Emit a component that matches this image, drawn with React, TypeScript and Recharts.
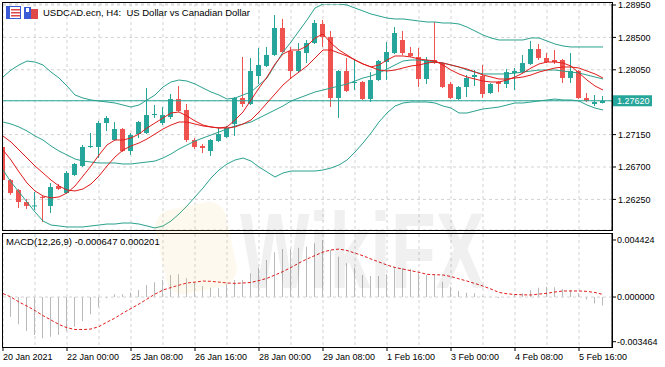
import React from 'react';
import { Bar, CartesianGrid, ComposedChart, Line, ReferenceLine, XAxis, YAxis } from 'recharts';

const FONT = '"Liberation Sans", Arial, sans-serif';
const BULL = '#26a69a';
const BEAR = '#ef5350';
const BAND = '#2aa18d';
const MA_RED = '#e01b1b';
const GRID = '#d2d2d2';
const HIST = '#b9b9b9';

// H4 candles, oldest first
const OPEN = [
  1.26978, 1.26519, 1.26381, 1.26214, 1.26152, 1.26284, 1.26159, 1.26436, 1.26339, 1.26589,
  1.26714, 1.26978, 1.26978, 1.27311, 1.27075, 1.27228, 1.26922, 1.27158, 1.27172, 1.27422,
  1.27311, 1.27394, 1.27644, 1.27492, 1.27075, 1.26992, 1.26922, 1.27061, 1.27117, 1.27297,
  1.27658, 1.27575, 1.27964, 1.28103, 1.28256, 1.28631, 1.28311, 1.28033, 1.28283, 1.28422,
  1.28686, 1.28506, 1.27658, 1.28033, 1.27867, 1.27881, 1.27644, 1.27908, 1.28158, 1.28283,
  1.28464, 1.28283, 1.28228, 1.27922, 1.28186, 1.28144, 1.27853, 1.27644, 1.27811, 1.2795,
  1.27964, 1.27728, 1.27881, 1.27853, 1.28005, 1.28019, 1.28131, 1.28339, 1.28214, 1.28186,
  1.28186, 1.27936, 1.28033, 1.27658, 1.27575, 1.27589,
];
const HIGH = [
  1.27006, 1.26533, 1.26395, 1.26256, 1.26353, 1.26298, 1.26478, 1.26464, 1.26644, 1.26756,
  1.27006, 1.27172, 1.27339, 1.27408, 1.27325, 1.27242, 1.27172, 1.27339, 1.27797, 1.27561,
  1.27533, 1.27714, 1.27825, 1.27575, 1.27103, 1.2702, 1.27089, 1.27256, 1.2727, 1.27672,
  1.28228, 1.28214, 1.28353, 1.28367, 1.28811, 1.28756, 1.28367, 1.28422, 1.28464, 1.28742,
  1.28742, 1.28589, 1.28047, 1.28214, 1.282, 1.27894, 1.28019, 1.28186, 1.28436, 1.28644,
  1.28589, 1.28367, 1.28353, 1.28228, 1.28714, 1.28158, 1.27881, 1.27825, 1.27978, 1.28047,
  1.28117, 1.27867, 1.27894, 1.28061, 1.28075, 1.28256, 1.2845, 1.28408, 1.28283, 1.28325,
  1.282, 1.28283, 1.28047, 1.27728, 1.277, 1.27686,
];
const LOW = [
  1.26491, 1.26312, 1.26131, 1.26117, 1.26103, 1.25936, 1.26061, 1.26381, 1.26325, 1.26575,
  1.267, 1.26964, 1.26825, 1.272, 1.27061, 1.26908, 1.26867, 1.27103, 1.27158, 1.27381,
  1.27283, 1.27367, 1.27464, 1.27047, 1.2695, 1.26894, 1.26853, 1.27047, 1.27103, 1.27131,
  1.27533, 1.27561, 1.27853, 1.28089, 1.28242, 1.28283, 1.27922, 1.28019, 1.28144, 1.28408,
  1.28367, 1.27533, 1.27381, 1.27742, 1.27769, 1.27631, 1.27603, 1.27894, 1.27908, 1.28269,
  1.28256, 1.28228, 1.27811, 1.27853, 1.28131, 1.27797, 1.27644, 1.27631, 1.27672, 1.27825,
  1.27658, 1.27714, 1.27742, 1.27797, 1.27769, 1.28005, 1.28117, 1.28186, 1.28144, 1.28131,
  1.27867, 1.27867, 1.27644, 1.27603, 1.27547, 1.27582,
];
const CLOSE = [
  1.26519, 1.26339, 1.26214, 1.26159, 1.26166, 1.26277, 1.26422, 1.26395, 1.26617, 1.26742,
  1.26978, 1.26992, 1.27311, 1.27381, 1.27228, 1.26922, 1.27144, 1.27325, 1.27422, 1.27436,
  1.27422, 1.27644, 1.27478, 1.27075, 1.26978, 1.26964, 1.27075, 1.27158, 1.27242, 1.27658,
  1.27575, 1.28033, 1.28117, 1.28256, 1.28631, 1.28297, 1.28033, 1.28311, 1.28422, 1.287,
  1.28506, 1.27658, 1.28033, 1.27756, 1.27881, 1.27644, 1.27908, 1.28172, 1.28297, 1.28561,
  1.28283, 1.28242, 1.27922, 1.28186, 1.28144, 1.27811, 1.27658, 1.27811, 1.27936, 1.27978,
  1.27714, 1.27853, 1.27853, 1.28019, 1.28033, 1.28144, 1.28339, 1.28214, 1.28158, 1.28158,
  1.27936, 1.28033, 1.27658, 1.27617, 1.27603, 1.2762,
];

// Bollinger bands
const BB_UPPER = [
  1.2795, 1.28047, 1.28117, 1.28172, 1.28158, 1.28117, 1.28019, 1.27936, 1.27825, 1.277,
  1.27658, 1.27631, 1.27617, 1.27603, 1.27589, 1.27561, 1.27533, 1.27561, 1.27631, 1.277,
  1.27811, 1.27881, 1.27908, 1.27894, 1.27853, 1.27797, 1.27742, 1.277, 1.27644, 1.27658,
  1.277, 1.27742, 1.27839, 1.27936, 1.28117, 1.28297, 1.28436, 1.28589, 1.28742, 1.28908,
  1.28964, 1.28964, 1.28964, 1.2895, 1.28908, 1.28867, 1.28825, 1.28797, 1.28769, 1.28756,
  1.28756, 1.28742, 1.28728, 1.28714, 1.28714, 1.287, 1.287, 1.28686, 1.28644, 1.28589,
  1.28533, 1.28492, 1.28464, 1.28464, 1.28464, 1.28464, 1.28492, 1.28492, 1.2845, 1.28408,
  1.28381, 1.28367, 1.28367, 1.28367, 1.28367, 1.28367,
];
const BB_MID = [
  1.27325, 1.27297, 1.27256, 1.272, 1.27131, 1.27075, 1.26992, 1.26922, 1.26867, 1.26811,
  1.26783, 1.26769, 1.26756, 1.26756, 1.26756, 1.26742, 1.26742, 1.26756, 1.26769, 1.26783,
  1.26825, 1.26881, 1.2695, 1.27006, 1.27061, 1.27103, 1.27144, 1.27186, 1.27228, 1.2727,
  1.27297, 1.27325, 1.27381, 1.27436, 1.27492, 1.27547, 1.27617, 1.27658, 1.277, 1.27742,
  1.27769, 1.27797, 1.27825, 1.27853, 1.27894, 1.27936, 1.27964, 1.28005, 1.28061, 1.28117,
  1.28172, 1.28186, 1.28186, 1.28172, 1.28158, 1.28144, 1.28117, 1.28089, 1.28047, 1.28019,
  1.27992, 1.27992, 1.27992, 1.27992, 1.28005, 1.28019, 1.28033, 1.28047, 1.28047, 1.28047,
  1.28033, 1.28019, 1.28005, 1.27978, 1.2795, 1.27922,
];
const BB_LOWER = [
  1.26658, 1.26491, 1.26353, 1.26214, 1.26075, 1.2595, 1.25894, 1.25881, 1.25867, 1.25867,
  1.25867, 1.25881, 1.25894, 1.25908, 1.25908, 1.25922, 1.25922, 1.25908, 1.25881, 1.25853,
  1.25881, 1.2595, 1.26047, 1.26159, 1.26284, 1.26408, 1.26547, 1.26658, 1.26742, 1.26797,
  1.26825, 1.26783, 1.267, 1.26631, 1.26561, 1.26617, 1.26644, 1.26644, 1.26644, 1.26644,
  1.26658, 1.26686, 1.26728, 1.26797, 1.26908, 1.27033, 1.27172, 1.27325, 1.2745, 1.27547,
  1.27589, 1.27603, 1.27603, 1.27603, 1.27589, 1.27547, 1.27519, 1.2745, 1.2745, 1.27478,
  1.27506, 1.27519, 1.27533, 1.27561, 1.27589, 1.27589, 1.27603, 1.27617, 1.27631, 1.27644,
  1.27631, 1.27631, 1.27617, 1.27561, 1.27519, 1.27492,
];

// two red moving averages
const MA_FAST = [
  1.26936, 1.26797, 1.26631, 1.26478, 1.26367, 1.26298, 1.2627, 1.26284, 1.26339, 1.26436,
  1.26575, 1.26714, 1.26867, 1.27006, 1.27075, 1.27075, 1.27103, 1.27158, 1.27242, 1.27311,
  1.27381, 1.2745, 1.27464, 1.27408, 1.27339, 1.27283, 1.27256, 1.27242, 1.27256, 1.27353,
  1.27464, 1.27631, 1.27797, 1.2795, 1.28131, 1.2827, 1.28325, 1.28325, 1.28381, 1.28492,
  1.28547, 1.28422, 1.28325, 1.28256, 1.28186, 1.28131, 1.28089, 1.28117, 1.28186, 1.28242,
  1.28242, 1.28228, 1.282, 1.28186, 1.28172, 1.28117, 1.28047, 1.27992, 1.2795, 1.27922,
  1.27894, 1.27881, 1.27881, 1.27908, 1.2795, 1.28005, 1.28075, 1.28131, 1.28158, 1.28158,
  1.28144, 1.28103, 1.28005, 1.27908, 1.27825, 1.27769,
];
const MA_SLOW = [
  1.27131, 1.27047, 1.26936, 1.26825, 1.26714, 1.26617, 1.26519, 1.26436, 1.26381, 1.26367,
  1.26395, 1.26464, 1.26575, 1.26714, 1.26839, 1.26936, 1.26992, 1.27033, 1.27089, 1.27158,
  1.27228, 1.27283, 1.27325, 1.27325, 1.27297, 1.2727, 1.27256, 1.27242, 1.27242, 1.27256,
  1.27297, 1.27353, 1.27464, 1.27589, 1.27714, 1.27839, 1.27936, 1.28019, 1.28103, 1.28214,
  1.28325, 1.28325, 1.28283, 1.28242, 1.28186, 1.28131, 1.28089, 1.28047, 1.28033, 1.28047,
  1.28075, 1.28103, 1.28117, 1.28144, 1.28158, 1.28144, 1.28117, 1.28089, 1.28061, 1.28019,
  1.27978, 1.2795, 1.27922, 1.27922, 1.27936, 1.2795, 1.27978, 1.28019, 1.28047, 1.28075,
  1.28089, 1.28089, 1.28075, 1.28033, 1.27992, 1.27936,
];

// MACD(12,26,9): main histogram + signal
const MACD_MAIN = [
  -0.00062, -0.00153, -0.00212, -0.00264, -0.00295, -0.0032, -0.00308, -0.00295, -0.00264, -0.0023,
  -0.00186, -0.00134, -0.00075, -0.0001, 0.00021, 0.00021, 0.00036, 0.00054, 0.00093, 0.00114,
  0.00132, 0.00171, 0.00176, 0.00145, 0.00114, 0.00085, 0.00072, 0.00068, 0.00099, 0.00132,
  0.00132, 0.00184, 0.00227, 0.00287, 0.00347, 0.00372, 0.00372, 0.00383, 0.0039, 0.00417,
  0.00442, 0.00365, 0.00313, 0.00262, 0.00227, 0.00171, 0.00163, 0.00163, 0.00176, 0.00223,
  0.00223, 0.00217, 0.00184, 0.00171, 0.00171, 0.00119, 0.0008, 0.00047, 0.00033, 0.00029,
  0.0001, 0.00005, -0.00008, -0.00002, 0.00016, 0.00029, 0.00054, 0.00072, 0.0008, 0.00075,
  0.00062, 0.00054, 0.00029, -0.0002, -0.0005, -0.000647,
];
const MACD_SIGNAL = [
  0.00027, 0.0, -0.00039, -0.0007, -0.00105, -0.00144, -0.00178, -0.00213, -0.00238, -0.00252,
  -0.00252, -0.00248, -0.00229, -0.00194, -0.00163, -0.00124, -0.00089, -0.00054, -0.00016, 0.00023,
  0.00054, 0.00074, 0.00092, 0.00109, 0.00116, 0.00124, 0.00122, 0.00116, 0.00109, 0.00106,
  0.00109, 0.00113, 0.00128, 0.00145, 0.00171, 0.00198, 0.00229, 0.00264, 0.00295, 0.00322,
  0.00349, 0.00365, 0.00372, 0.00361, 0.00341, 0.0032, 0.00295, 0.00272, 0.00248, 0.00229,
  0.00217, 0.00204, 0.00192, 0.00176, 0.00173, 0.00171, 0.00159, 0.00141, 0.00124, 0.00105,
  0.00085, 0.00062, 0.00036, 0.00025, 0.0002, 0.00017, 0.00016, 0.00023, 0.00029, 0.00039,
  0.00047, 0.00047, 0.00047, 0.00044, 0.00035, 0.000201,
];

// one date label every 8 bars
const DATE_LABELS = [
  '20 Jan 2021', '22 Jan 00:00', '25 Jan 08:00', '26 Jan 16:00', '28 Jan 00:00',
  '29 Jan 08:00', '1 Feb 16:00', '3 Feb 00:00', '4 Feb 08:00', '5 Feb 16:00',
];
const PRICE_TICKS = [1.2895, 1.285, 1.2805, 1.2762, 1.2715, 1.267, 1.2625];
const LAST_PRICE = 1.2762;
const MACD_TICKS = [0.004424, 0, -0.003464];
const GRID_BARS = Array.from({ length: 19 }, (_, k) => k * 4);

const rows = OPEN.map((open, i) => ({
  i,
  open,
  high: HIGH[i],
  low: LOW[i],
  close: CLOSE[i],
  range: [LOW[i], HIGH[i]],
  upper: BB_UPPER[i],
  mid: BB_MID[i],
  lower: BB_LOWER[i],
  fast: MA_FAST[i],
  slow: MA_SLOW[i],
  macd: MACD_MAIN[i],
  signal: MACD_SIGNAL[i],
}));

function Candle(props: any) {
  const { x, y, width, height, payload } = props;
  if (!payload || height == null) return null;
  const { open, close, high, low } = payload;
  const color = close >= open ? BULL : BEAR;
  const top = Math.min(y, y + height);
  const h = Math.abs(height);
  const span = high - low || 1;
  const cx = x + width / 2;
  const bTop = top + ((high - Math.max(open, close)) / span) * h;
  const bBot = top + ((high - Math.min(open, close)) / span) * h;
  return (
    <g>
      <line x1={cx} x2={cx} y1={top} y2={top + h} stroke={color} strokeWidth={1} />
      <rect x={cx - 2.5} y={bTop} width={5} height={Math.max(1, bBot - bTop)} fill={color} />
    </g>
  );
}

function PriceTick(props: any) {
  const { x, y, payload } = props;
  const v = payload.value;
  if (v === LAST_PRICE) {
    return (
      <g>
        <rect x={x + 1} y={y - 5.5} width={39} height={11} fill={BULL} />
        <text x={x + 5} y={y} dy="0.35em" fontSize={9} fontFamily={FONT} fill="#fff">
          {v.toFixed(5)}
        </text>
      </g>
    );
  }
  return (
    <g>
      <line x1={x} x2={x + 4} y1={y} y2={y} stroke="#000" />
      <text x={x + 6} y={y} dy="0.35em" fontSize={9} fontFamily={FONT} fill="#000">
        {v.toFixed(5)}
      </text>
    </g>
  );
}

function MacdTick(props: any) {
  const { x, y, payload } = props;
  return (
    <g>
      <line x1={x} x2={x + 4} y1={y} y2={y} stroke="#000" />
      <text x={x + 5} y={y} dy="0.35em" fontSize={9} fontFamily={FONT} fill="#000">
        {payload.value.toFixed(6)}
      </text>
    </g>
  );
}

function DateTick(props: any) {
  const { x, y, payload } = props;
  const i = payload.value;
  if (i % 8 !== 0) return <g />;
  return (
    <g>
      <line x1={x} x2={x} y1={y} y2={y + 4} stroke="#000" />
      <text x={x} y={y + 13} fontSize={9} fontFamily={FONT} fill="#000">
        {DATE_LABELS[i / 8]}
      </text>
    </g>
  );
}

export default function App() {
  return (
    <div
      style={{
        position: 'absolute',
        left: 0,
        top: 0,
        width: 665,
        height: 367,
        background: '#fff',
        overflow: 'hidden',
        fontFamily: FONT,
      }}
    >
      <div style={{ position: 'absolute', left: 0, top: 0 }}>
        <ComposedChart width={665} height={232} data={rows} margin={{ top: 4, right: 0, bottom: 2, left: 3 }}>
          <CartesianGrid stroke={GRID} strokeDasharray="3 3" />
          <XAxis dataKey="i" type="number" domain={[0, 76.125]} allowDataOverflow ticks={GRID_BARS} interval={0} hide />
          <YAxis
            orientation="right"
            width={53}
            type="number"
            domain={[1.25825, 1.28964]}
            allowDataOverflow
            ticks={PRICE_TICKS}
            interval={0}
            tickLine={false}
            tickSize={0}
            tickMargin={0}
            axisLine={{ stroke: '#000' }}
            tick={(p: any) => <PriceTick {...p} />}
          />
          <ReferenceLine y={LAST_PRICE} stroke={BULL} strokeWidth={1} />
          <Bar dataKey="range" barSize={5} isAnimationActive={false} shape={(p: any) => <Candle {...p} />} />
          <Line type="linear" dataKey="upper" stroke={BAND} strokeWidth={1} dot={false} isAnimationActive={false} />
          <Line type="linear" dataKey="mid" stroke={BAND} strokeWidth={1} dot={false} isAnimationActive={false} />
          <Line type="linear" dataKey="lower" stroke={BAND} strokeWidth={1} dot={false} isAnimationActive={false} />
          <Line type="linear" dataKey="slow" stroke={MA_RED} strokeWidth={1} dot={false} isAnimationActive={false} />
          <Line type="linear" dataKey="fast" stroke={MA_RED} strokeWidth={1} dot={false} isAnimationActive={false} />
        </ComposedChart>
      </div>

      <div style={{ position: 'absolute', left: 0, top: 233 }}>
        <ComposedChart width={665} height={134} data={rows} margin={{ top: 1, right: 0, bottom: 0, left: 3 }}>
          <CartesianGrid stroke={GRID} strokeDasharray="3 3" horizontal={false} />
          <XAxis
            dataKey="i"
            type="number"
            domain={[0, 76.125]}
            allowDataOverflow
            ticks={GRID_BARS}
            interval={0}
            height={20}
            axisLine={false}
            tickLine={false}
            tickSize={0}
            tickMargin={0}
            tick={(p: any) => <DateTick {...p} />}
          />
          <YAxis
            orientation="right"
            width={53}
            type="number"
            domain={[-0.003875, 0.004889]}
            allowDataOverflow
            ticks={MACD_TICKS}
            interval={0}
            tickLine={false}
            tickSize={0}
            tickMargin={0}
            axisLine={{ stroke: '#000' }}
            tick={(p: any) => <MacdTick {...p} />}
          />
          <ReferenceLine y={0} stroke={GRID} strokeDasharray="3 3" />
          <Bar dataKey="macd" barSize={1} fill={HIST} isAnimationActive={false} />
          <Line type="linear" dataKey="signal" stroke={MA_RED} strokeWidth={1} strokeDasharray="3 2" dot={false} isAnimationActive={false} />
        </ComposedChart>
      </div>

      {/* window frames */}
      <div style={{ position: 'absolute', left: 2, top: 2, width: 611, height: 229, border: '1px solid #000', boxSizing: 'border-box', pointerEvents: 'none' }} />
      <div style={{ position: 'absolute', left: 2, top: 233, width: 611, height: 115, border: '1px solid #000', boxSizing: 'border-box', pointerEvents: 'none' }} />

      {/* title and toolbar icons */}
      <svg style={{ position: 'absolute', left: 6, top: 6 }} width={34} height={14}>
        <rect x={0.5} y={0.5} width={14} height={12} fill="#fff" stroke="#3b5bd6" />
        <rect x={1} y={1} width={3} height={11} fill="#3b5bd6" />
        <rect x={5} y={3} width={9} height={1.5} fill="#e04848" />
        <rect x={5} y={6} width={9} height={1.5} fill="#e04848" />
        <rect x={5} y={9} width={9} height={1.5} fill="#e04848" />
        <rect x={18} y={1} width={7} height={12} fill="#3b5bd6" />
        <rect x={25} y={3} width={7} height={10} fill="#e04848" />
        <rect x={20} y={2} width={3} height={4} fill="#fff" />
      </svg>
      <div style={{ position: 'absolute', left: 43, top: 7, fontSize: 9.5, color: '#000', whiteSpace: 'pre', lineHeight: '12px' }}>
        {'USDCAD.ecn, H4:  US Dollar vs Canadian Dollar'}
      </div>
      <div style={{ position: 'absolute', left: 6, top: 236, fontSize: 9.5, color: '#000', whiteSpace: 'pre', lineHeight: '12px' }}>
        {'MACD(12,26,9) -0.000647 0.000201'}
      </div>

      {/* faint watermark */}
      <svg style={{ position: 'absolute', left: 0, top: 0, pointerEvents: 'none' }} width={665} height={367}>
        <rect x={160} y={205} width={72} height={86} rx={18} fill="#f0c860" opacity={0.1} transform="rotate(-12 196 248)" />
        <text
          x={240}
          y={288}
          fontSize={108}
          fontWeight="bold"
          fontFamily={FONT}
          textLength={245}
          lengthAdjust="spacingAndGlyphs"
          fill="#000"
          opacity={0.055}
        >
          WikiFX
        </text>
      </svg>
    </div>
  );
}
